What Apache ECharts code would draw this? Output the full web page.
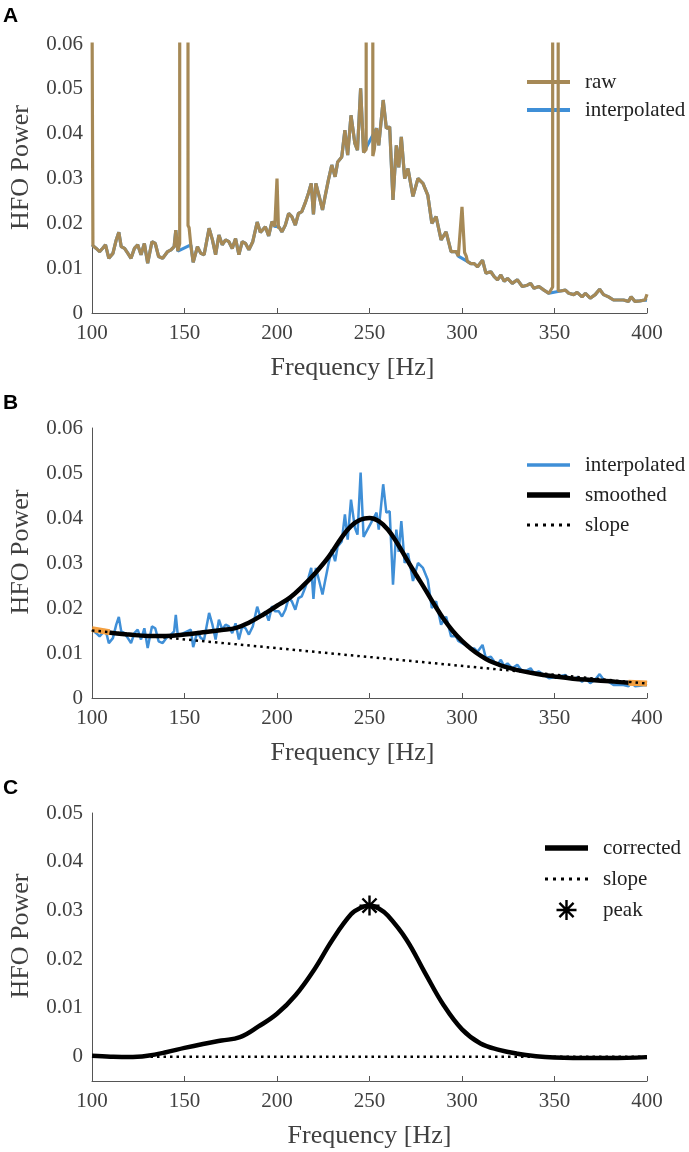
<!DOCTYPE html>
<html>
<head>
<meta charset="utf-8">
<script src="https://cdn.jsdelivr.net/npm/echarts@6/dist/echarts.min.js"></script>
<style>
  html, body { margin: 0; padding: 0; background: #ffffff; }
  #chart { width: 689px; height: 1152px; }
</style>
</head>
<body>
<div id="chart"></div>
<script>
// ---------------- DATA ----------------
// x-axis ticks (Hz) and y tick labels
const freqTicks = [100, 150, 200, 250, 300, 350, 400];
const powerTicksAB = [0, 0.01, 0.02, 0.03, 0.04, 0.05, 0.06];
const powerTicksC = [0, 0.01, 0.02, 0.03, 0.04, 0.05];

// Interpolated spectrum [frequency Hz, power] (line-noise peaks bridged)
const interpolatedSpectrum = [
  [100, 0.0152], [102.3, 0.0144], [104.1, 0.0137], [105.9, 0.0145], [107.3, 0.0152],
  [109.1, 0.0122], [111.3, 0.0133], [113.1, 0.0163], [114.5, 0.0180], [115.8, 0.0148],
  [117.6, 0.0144], [119.4, 0.0133], [121.1, 0.0122], [122.9, 0.0144], [124.7, 0.0152],
  [126.5, 0.0130], [128.3, 0.0155], [130.1, 0.0111], [132.4, 0.0159], [134.2, 0.0155],
  [136.0, 0.0126], [138.2, 0.0122], [140.9, 0.0137], [142.7, 0.0141], [144.4, 0.0148],
  [145.3, 0.0185], [146.4, 0.0138], [153.4, 0.0152], [154.7, 0.0113], [157.0, 0.0148],
  [158.8, 0.0133], [160.6, 0.0130], [163.3, 0.0189], [165.1, 0.0163], [166.8, 0.0130],
  [168.6, 0.0174], [170.4, 0.0152], [172.2, 0.0163], [174.0, 0.0159], [175.8, 0.0144],
  [177.6, 0.0166], [179.4, 0.0130], [181.2, 0.0159], [183.0, 0.0155], [184.8, 0.0141],
  [186.9, 0.0159], [189.3, 0.0203], [191.0, 0.0180], [193.7, 0.0192], [195.5, 0.0172],
  [197.3, 0.0204], [198.8, 0.0193], [200.9, 0.0193], [202.7, 0.0181], [204.5, 0.0196],
  [206.3, 0.0222], [208.0, 0.0215], [209.9, 0.0196], [211.6, 0.0222], [213.4, 0.0226],
  [215.2, 0.0245], [217.0, 0.0267], [218.5, 0.0289], [219.7, 0.0220], [221.0, 0.0289],
  [222.8, 0.0260], [224.6, 0.0230], [226.0, 0.0260], [227.8, 0.0297], [229.6, 0.0330],
  [231.4, 0.0304], [232.8, 0.0337], [235.0, 0.0348], [236.7, 0.0408], [238.2, 0.0352],
  [240.0, 0.0441], [242.1, 0.0378], [243.5, 0.0363], [245.2, 0.0501], [246.8, 0.0358],
  [253.8, 0.0412], [255.0, 0.0374], [257.4, 0.0475], [259.1, 0.0412], [260.9, 0.0415],
  [262.7, 0.0252], [264.5, 0.0374], [265.8, 0.0325], [267.2, 0.0393], [269.0, 0.0300],
  [270.8, 0.0322], [273.5, 0.0260], [276.2, 0.0300], [278.9, 0.0289], [281.5, 0.0263],
  [283.7, 0.0200], [286.0, 0.0215], [288.7, 0.0163], [291.4, 0.0181], [294.1, 0.0137],
  [296.8, 0.0137], [298.0, 0.0127], [302.9, 0.0115], [304.8, 0.0110], [306.6, 0.0110],
  [308.4, 0.0103], [311.1, 0.0118], [312.9, 0.0089], [315.6, 0.0092], [317.4, 0.0081],
  [319.2, 0.0074], [321.0, 0.0085], [322.8, 0.0071], [324.6, 0.0077], [327.2, 0.0066],
  [329.9, 0.0074], [332.6, 0.0059], [335.3, 0.0062], [337.1, 0.0066], [338.9, 0.0055],
  [341.6, 0.0059], [344.3, 0.0051], [347.0, 0.0044], [353.2, 0.0049], [355.9, 0.0051],
  [357.7, 0.0044], [360.4, 0.0041], [362.2, 0.0046], [364.9, 0.0036], [366.7, 0.0044],
  [369.3, 0.0033], [372.0, 0.0041], [374.4, 0.0053], [376.5, 0.0041], [379.2, 0.0036],
  [381.9, 0.0029], [384.6, 0.0029], [387.3, 0.0029], [390.0, 0.0026], [391.4, 0.0036],
  [393.5, 0.0026], [396.2, 0.0027], [398.9, 0.0029], [400.0, 0.0028]
];

// Raw-spectrum artefacts (line noise at 100/150/200/250/300/350/400 Hz): [frequency, power]
const rawArtifacts = [
  [[100.0, 0.0700], [100.5, 0.0150]],
  [[147.4, 0.0155], [147.9, 2.0], [151.5, 2.0], [151.9, 0.0195], [152.5, 0.0190]],
  [[199.2, 0.0192], [200.0, 0.0300], [200.8, 0.0188]],
  [[248.2, 0.0365], [248.5, 2.0], [251.3, 2.0], [251.8, 0.0350], [252.6, 0.0365]],
  [[298.8, 0.0128], [300.0, 0.0237], [301.4, 0.0135], [302.3, 0.0127]],
  [[349.0, 0.0058], [349.3, 2.0], [351.7, 2.0], [352.0, 0.0050]],
  [[399.4, 0.0029], [400.0, 0.0042]]
];

// Smoothed spectrum (panel B)
const smoothedSpectrum = [
  [100, 0.0152], [105, 0.0149], [110, 0.0145], [120, 0.0141], [130, 0.0138], [140, 0.0138],
  [150, 0.0141], [160, 0.0146], [170, 0.0151], [178, 0.0156], [185, 0.0168], [192, 0.0184],
  [200, 0.0205], [207, 0.0223], [214, 0.0249], [221, 0.0279], [228, 0.0314], [235, 0.0357],
  [240, 0.0382], [245, 0.0396], [250, 0.0400], [255, 0.0393], [260, 0.0374], [265, 0.0344],
  [270, 0.0309], [275, 0.0275], [280, 0.0242], [285, 0.0208], [290, 0.0176], [295, 0.0149],
  [300, 0.0127], [305, 0.0109], [310, 0.0094], [315, 0.0082], [320, 0.0074], [330, 0.0062],
  [340, 0.0054], [350, 0.0048], [360, 0.0043], [370, 0.0040], [380, 0.0037], [390, 0.0034],
  [400, 0.0032]
];

// Fit windows at both ends (orange) and fitted slope
const fitWindowLow = [[100, 0.0153], [109.5, 0.0146]];
const fitWindowHigh = [[390, 0.0034], [400, 0.0032]];
const slopeLine = [[100, 0.0150], [400, 0.0032]];

// Corrected spectrum (panel C)
const correctedSpectrum = [
  [100, 0.0002], [110, 0.0000], [120, -0.0001], [130, 0.0002], [140, 0.0009], [150, 0.0018],
  [160, 0.0026], [170, 0.0033], [180, 0.0040], [190, 0.0062], [200, 0.0088], [210, 0.0126],
  [220, 0.0178], [230, 0.0240], [240, 0.0292], [245, 0.0305], [250, 0.0310], [255, 0.0304],
  [260, 0.0289], [270, 0.0240], [280, 0.0172], [290, 0.0106], [300, 0.0056], [310, 0.0027],
  [320, 0.0014], [330, 0.0006], [340, 0.0001], [350, -0.0002], [360, -0.0003], [380, -0.0003],
  [400, -0.0001]
];
const correctedSlope = [[100, 0], [400, 0]];
const peakPoint = [[250, 0.031]];

// ---------------- STYLE ----------------
const SERIF = '"Liberation Serif", "Times New Roman", serif';
const AXIS_COLOR = '#555555';
const LABEL_COLOR = '#404040';
const RAW_COLOR = '#A68956';
const BLUE = '#3F8FD7';
const ORANGE = '#F4A040';
const ASTERISK = 'path://M-10,-1.2L10,-1.2L10,1.2L-10,1.2Z' +
  'M-1.2,-10L1.2,-10L1.2,10L-1.2,10Z' +
  'M-6.22,-7.92L7.92,6.22L6.22,7.92L-7.92,-6.22Z' +
  'M-7.92,6.22L6.22,-7.92L7.92,-6.22L-6.22,7.92Z';
const ICON_LINE_4 = 'path://M0,0h43v4h-43z';
const ICON_LINE_35 = 'path://M0,0h43v3.5h-43z';
const ICON_LINE_55 = 'path://M0,0h43v5.5h-43z';
const ICON_DOTS = 'path://M0,0h3v3h-3z M8,0h3v3h-3z M16,0h3v3h-3z M24,0h3v3h-3z M32,0h3v3h-3z M40,0h3v3h-3z';

function buildRaw(base, groups) {
  let pts = base.filter(p => !groups.some(g => p[0] >= g[0][0] && p[0] <= g[g.length - 1][0]));
  groups.forEach(g => { pts = pts.concat(g); });
  pts.sort((a, b) => a[0] - b[0]);
  return pts;
}
const rawSpectrum = buildRaw(interpolatedSpectrum, rawArtifacts);

const grids = [
  { left: 89, width: 558, top: 44, height: 269 },
  { left: 89, width: 558, top: 428, height: 270 },
  { left: 89, width: 558, top: 813, height: 268 }
];

function xAxisFor(i, shiftLeft) {
  return {
    type: 'value', gridIndex: i, min: freqTicks[0], max: freqTicks[freqTicks.length - 1], interval: 50,
    name: 'Frequency [Hz]', nameLocation: 'middle', nameGap: 42,
    nameTextStyle: { fontFamily: SERIF, fontSize: 26, color: LABEL_COLOR, padding: shiftLeft ? [0, 34, 0, 0] : 0 },
    axisLine: { show: true, onZero: false, lineStyle: { color: AXIS_COLOR, width: 1 } },
    axisTick: { show: true, inside: true, length: 5, lineStyle: { color: AXIS_COLOR } },
    axisLabel: { fontFamily: SERIF, fontSize: 21, color: LABEL_COLOR, margin: 10 },
    splitLine: { show: false }
  };
}
function yAxisFor(i, min, max, ticks) {
  const ax = {
    type: 'value', gridIndex: i, min: min, max: max,
    name: 'HFO Power', nameLocation: 'middle', nameGap: 58,
    nameTextStyle: { fontFamily: SERIF, fontSize: 26, color: LABEL_COLOR, padding: [0, 0, 0, 22] },
    axisLine: { show: true, lineStyle: { color: AXIS_COLOR, width: 1 } },
    axisTick: { show: false },
    axisLabel: { fontFamily: SERIF, fontSize: 21, color: LABEL_COLOR, margin: 9,
      formatter: v => String(Math.round(v * 1000) / 1000) },
    splitLine: { show: false }
  };
  if (min === 0) {
    ax.interval = 0.01;
  } else {
    ax.axisLabel.customValues = ticks;
  }
  return ax;
}

const legendText = { fontFamily: SERIF, fontSize: 21, color: '#222222', lineHeight: 24, padding: [0, 0, 0, 10] };

const option = {
  animation: false,
  backgroundColor: '#ffffff',
  grid: grids,
  xAxis: [xAxisFor(0, true), xAxisFor(1, true), xAxisFor(2, false)],
  yAxis: [
    yAxisFor(0, 0, 0.06, powerTicksAB),
    yAxisFor(1, 0, 0.06, powerTicksAB),
    yAxisFor(2, -0.005, 0.05, powerTicksC)
  ],
  legend: [
    { data: [{ name: 'raw', icon: ICON_LINE_4 }, { name: 'interpolated', icon: ICON_LINE_4 }],
      orient: 'vertical', left: 527, top: 70, padding: 0, itemWidth: 43, itemHeight: 14,
      itemGap: 4, textStyle: legendText, selectedMode: false, z: 1 },
    { data: [{ name: 'interpolated', icon: ICON_LINE_35 }, { name: 'smoothed', icon: ICON_LINE_55 },
             { name: 'slope', icon: ICON_DOTS }],
      orient: 'vertical', left: 527, top: 453, padding: 0, itemWidth: 43,
      itemHeight: 14, itemGap: 6, textStyle: legendText, selectedMode: false },
    { data: [{ name: 'corrected', icon: ICON_LINE_55 }, { name: 'slope', icon: ICON_DOTS },
             { name: 'peak', icon: ASTERISK }],
      orient: 'vertical', left: 545, top: 836, padding: 0, itemWidth: 43,
      itemHeight: 20, itemGap: 7, textStyle: legendText, selectedMode: false }
  ],
  graphic: [
    { type: 'text', left: 3, top: 6, style: { text: 'A', font: 'bold 21px "Liberation Sans", Arial, sans-serif', fill: '#000' } },
    { type: 'text', left: 3, top: 393, style: { text: 'B', font: 'bold 21px "Liberation Sans", Arial, sans-serif', fill: '#000' } },
    { type: 'text', left: 3, top: 778, style: { text: 'C', font: 'bold 21px "Liberation Sans", Arial, sans-serif', fill: '#000' } }
  ],
  series: [
    // Panel A
    { name: 'interpolated', type: 'line', xAxisIndex: 0, yAxisIndex: 0, data: interpolatedSpectrum,
      symbol: 'none', lineStyle: { color: BLUE, width: 3.2 }, itemStyle: { color: BLUE }, z: 2 },
    { name: 'raw', type: 'line', xAxisIndex: 0, yAxisIndex: 0, data: rawSpectrum,
      symbol: 'none', lineStyle: { color: RAW_COLOR, width: 3.2 }, itemStyle: { color: RAW_COLOR }, z: 3 },
    // Panel B
    { name: 'interpolated', type: 'line', xAxisIndex: 1, yAxisIndex: 1, data: interpolatedSpectrum,
      symbol: 'none', lineStyle: { color: BLUE, width: 2.5 }, itemStyle: { color: BLUE }, z: 2 },
    { name: 'smoothed', type: 'line', xAxisIndex: 1, yAxisIndex: 1, data: smoothedSpectrum, smooth: 0.4,
      symbol: 'none', lineStyle: { color: '#000000', width: 4.5 }, itemStyle: { color: '#000000' }, z: 3 },
    { name: 'fit window low', type: 'line', xAxisIndex: 1, yAxisIndex: 1, data: fitWindowLow,
      symbol: 'none', lineStyle: { color: ORANGE, width: 6 }, itemStyle: { color: ORANGE }, z: 4 },
    { name: 'fit window high', type: 'line', xAxisIndex: 1, yAxisIndex: 1, data: fitWindowHigh,
      symbol: 'none', lineStyle: { color: ORANGE, width: 6 }, itemStyle: { color: ORANGE }, z: 4 },
    { name: 'slope', type: 'line', xAxisIndex: 1, yAxisIndex: 1, data: slopeLine,
      symbol: 'none', lineStyle: { color: '#000000', width: 2.5, type: [2.5, 4] }, itemStyle: { color: '#000000' }, z: 5 },
    // Panel C
    { name: 'corrected', type: 'line', xAxisIndex: 2, yAxisIndex: 2, data: correctedSpectrum, smooth: 0.4,
      symbol: 'none', lineStyle: { color: '#000000', width: 4.5 }, itemStyle: { color: '#000000' }, z: 3 },
    { name: 'slope', type: 'line', xAxisIndex: 2, yAxisIndex: 2, data: correctedSlope,
      symbol: 'none', lineStyle: { color: '#000000', width: 2.5, type: [2.5, 4] }, itemStyle: { color: '#000000' }, z: 4 },
    { name: 'peak', type: 'scatter', xAxisIndex: 2, yAxisIndex: 2, data: peakPoint,
      symbol: ASTERISK, symbolSize: 20, itemStyle: { color: '#000000', opacity: 1 }, z: 5 }
  ]
};

const chart = echarts.init(document.getElementById('chart'), null, { renderer: 'canvas' });
chart.setOption(option);
</script>
</body>
</html>
